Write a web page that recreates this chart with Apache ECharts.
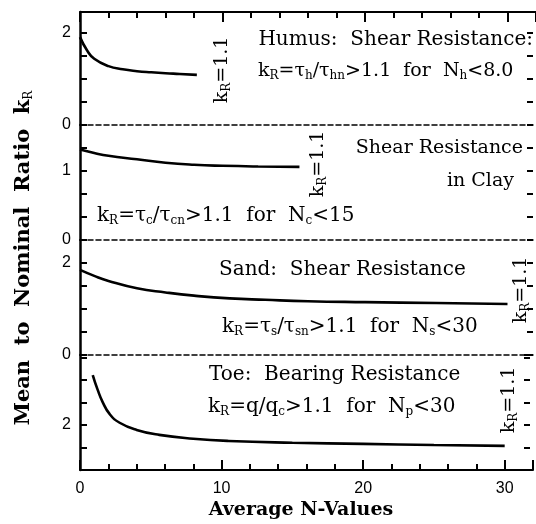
<!DOCTYPE html>
<html style="height: 100%">
<head>
    <meta charset="utf-8">
</head>
<body style="height: 100%; margin: 0; background: #fff">
<div id="container" style="width: 536px; height: 524px"></div>

<script type="text/javascript" src="https://fastly.jsdelivr.net/npm/echarts@6.0.0/dist/echarts.min.js"></script>

<script type="text/javascript">
    var dom = document.getElementById('container');
    var myChart = echarts.init(dom, null, {renderer: 'canvas'});

    // curves: [N, kR]
    var humusN  = [0, 0.5, 1, 2, 3, 4, 5, 6, 7, 8.2];
    var humusK  = [1.91, 1.62, 1.44, 1.28, 1.21, 1.17, 1.145, 1.125, 1.11, 1.09];
    var clayN   = [0, 1, 2, 4, 6, 8, 10, 12.5, 15.4];
    var clayK   = [1.31, 1.26, 1.22, 1.17, 1.12, 1.09, 1.075, 1.065, 1.06];
    var sandN   = [0, 1, 2, 4, 6, 8, 10.5, 13, 16, 20, 25, 30];
    var sandK   = [1.85, 1.72, 1.61, 1.45, 1.36, 1.29, 1.23, 1.20, 1.17, 1.15, 1.13, 1.11];
    var toeN    = [0.9, 1.25, 1.6, 2.1, 2.8, 4, 5.6, 8, 10.5, 15, 20, 25, 30];
    var toeK    = [4.22, 3.56, 3.02, 2.48, 2.10, 1.78, 1.56, 1.39, 1.29, 1.21, 1.16, 1.11, 1.07];

    // axis ranges for the four stacked panels (top to bottom)
    var panelMax      = [2.456, 5 / 3, 2.5, 5.111];
    var panelInterval = [0.5, 1 / 3, 0.5, 1];
    var panelLabels   = [[0, 2], [0, 1], [0, 2], [2]];
    var xTicksMajor = 10;
    var xTicksMinor = 2;

    function pairs(xs, ys) {
        return xs.map(function (x, i) { return [x, ys[i]]; });
    }

    var serif = '"DejaVu Serif", "Liberation Serif", serif';
    var sans = '"Liberation Sans", "DejaVu Sans", sans-serif';
    var tops = [12, 125, 240, 355];
    var heights = [113, 115, 115, 115];

    var grids = [];
    var yAxes = [];
    var xAxes = [];
    for (var i = 0; i < 4; i++) {
        grids.push({left: 80, top: tops[i], width: 459, height: heights[i]});
        (function (labels) {
            yAxes.push({
                gridIndex: i, type: 'value', position: 'left',
                min: 0, max: panelMax[i], interval: panelInterval[i],
                splitLine: {show: false},
                axisLine: {show: true, onZero: false, lineStyle: {color: '#000', width: 2.5}},
                axisTick: {show: true, inside: true, length: 7, lineStyle: {color: '#000', width: 2}},
                axisLabel: {
                    margin: 9, color: '#000', fontSize: 16, fontFamily: sans,
                    formatter: function (v) {
                        for (var k = 0; k < labels.length; k++) {
                            if (Math.abs(v - labels[k]) < 1e-6) return String(labels[k]);
                        }
                        return '';
                    }
                }
            });
        })(panelLabels[i]);
    }
    for (i = 0; i < 4; i++) {
        yAxes.push({
            gridIndex: i, type: 'value', position: 'right', offset: -3,
            min: 0, max: panelMax[i], interval: panelInterval[i],
            splitLine: {show: false},
            axisLine: {show: false, onZero: false},
            axisTick: {show: true, inside: true, length: 6, lineStyle: {color: '#000', width: 2}},
            axisLabel: {show: false}
        });
    }
    // bottoms of the upper three panels: dashed separators
    for (i = 0; i < 3; i++) {
        xAxes.push({
            gridIndex: i, type: 'value', position: 'bottom', min: 0, max: 32,
            splitLine: {show: false},
            axisLine: {show: true, onZero: false, lineStyle: {color: '#000', width: 1.5, type: [5, 3]}},
            axisTick: {show: false}, axisLabel: {show: false}
        });
    }
    // real x axis
    xAxes.push({
        gridIndex: 3, type: 'value', position: 'bottom', min: 0, max: 32, interval: xTicksMajor,
        splitLine: {show: false},
        axisLine: {show: true, onZero: false, lineStyle: {color: '#000', width: 2}},
        axisTick: {show: true, inside: true, length: 10, lineStyle: {color: '#000', width: 2}},
        axisLabel: {
            margin: 11, color: '#000', fontSize: 16, fontFamily: sans,
            formatter: function (v) { return v % 10 === 0 && v <= 30 ? String(v) : ''; }
        }
    });
    xAxes.push({
        gridIndex: 3, type: 'value', position: 'bottom', min: 0, max: 32, interval: xTicksMinor,
        splitLine: {show: false}, axisLine: {show: false, onZero: false},
        axisTick: {show: true, inside: true, length: 6, lineStyle: {color: '#000', width: 2}},
        axisLabel: {show: false}
    });
    // top frame
    xAxes.push({
        gridIndex: 0, type: 'value', position: 'top', min: 0, max: 32, interval: xTicksMajor,
        splitLine: {show: false},
        axisLine: {show: true, onZero: false, lineStyle: {color: '#000', width: 2}},
        axisTick: {show: true, inside: true, length: 10, lineStyle: {color: '#000', width: 2}},
        axisLabel: {show: false}
    });
    xAxes.push({
        gridIndex: 0, type: 'value', position: 'top', min: 0, max: 32, interval: xTicksMinor,
        splitLine: {show: false}, axisLine: {show: false, onZero: false},
        axisTick: {show: true, inside: true, length: 6, lineStyle: {color: '#000', width: 2}},
        axisLabel: {show: false}
    });

    var curves = [pairs(humusN, humusK), pairs(clayN, clayK), pairs(sandN, sandK), pairs(toeN, toeK)];
    var seriesList = curves.map(function (d, k) {
        return {
            type: 'line', xAxisIndex: k, yAxisIndex: k, data: d,
            showSymbol: false, smooth: 0.5,
            lineStyle: {color: '#000', width: 2.6}, silent: true, animation: false
        };
    });

    var rich = {
        s: {fontSize: 12, fontFamily: serif, verticalAlign: 'bottom', lineHeight: 13, fill: '#000'}
    };
    function note(x, y, text, opts) {
        opts = opts || {};
        return {
            type: 'text', x: x, y: y, rotation: opts.rot || 0, silent: true,
            style: {
                text: text, fill: '#000',
                font: (opts.bold ? 'bold ' : '') + (opts.size || 20) + 'px ' + serif,
                textAlign: opts.align || 'left', textVerticalAlign: 'middle',
                lineHeight: 22, rich: rich
            }
        };
    }
    var kr11 = 'k{s|R}=1.1';

    option = {
        backgroundColor: '#fff',
        animation: false,
        grid: grids,
        xAxis: xAxes,
        yAxis: yAxes,
        series: seriesList,
        graphic: [
            note(533, 40, 'Humus:  Shear Resistance:', {align: 'right'}),
            note(258, 71, 'k{s|R}=τ{s|h}/τ{s|hn}>1.1  for  N{s|h}<8.0', {size: 19}),
            note(222, 70, kr11, {rot: Math.PI / 2, align: 'center', size: 19}),
            note(523, 148, 'Shear Resistance', {align: 'right', size: 19}),
            note(514, 181, 'in Clay', {align: 'right', size: 19}),
            note(318, 164, kr11, {rot: Math.PI / 2, align: 'center', size: 19}),
            note(97, 216, 'k{s|R}=τ{s|c}/τ{s|cn}>1.1  for  N{s|c}<15'),
            note(219, 270, 'Sand:  Shear Resistance'),
            note(222, 327, 'k{s|R}=τ{s|s}/τ{s|sn}>1.1  for  N{s|s}<30'),
            note(521, 290, kr11, {rot: Math.PI / 2, align: 'center', size: 19}),
            note(209, 375, 'Toe:  Bearing Resistance'),
            note(208, 407, 'k{s|R}=q/q{s|c}>1.1  for  N{s|p}<30'),
            note(509, 400, kr11, {rot: Math.PI / 2, align: 'center', size: 19}),
            note(301, 510, 'Average N-Values', {bold: true, size: 19, align: 'center'}),
            note(24, 258, 'Mean  to  Nominal  Ratio  k{s|R}', {bold: true, size: 21, align: 'center', rot: Math.PI / 2})
        ]
    };

    myChart.setOption(option);
    window.addEventListener('resize', myChart.resize);
</script>
</body>
</html>
